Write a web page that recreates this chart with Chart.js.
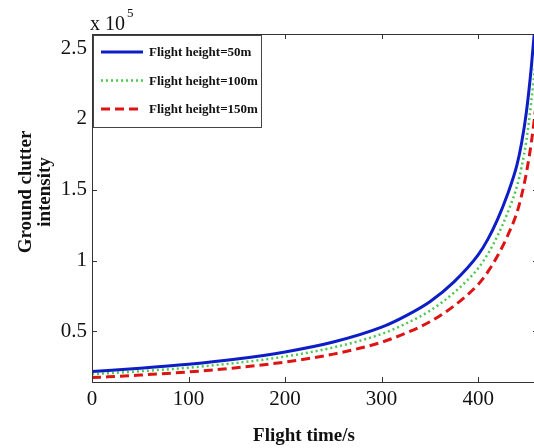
<!DOCTYPE html>
<html>
<head>
<meta charset="utf-8">
<script src="https://cdn.jsdelivr.net/npm/chart.js@4"></script>
<style>
  html, body { margin: 0; padding: 0; background: #fff; overflow: hidden; }
  #wrap { width: 546px; height: 448px; }
</style>
</head>
<body>
<div id="wrap"><canvas id="chart" width="546" height="448"></canvas></div>
<script>
// 데이터 (x 10^5 단위)
const flightTime = [0, 50, 100, 150, 200, 250, 300, 325, 350, 375, 400, 410, 420, 430, 440, 445, 450, 455, 460, 465];
const h50  = [0.217, 0.240, 0.268, 0.305, 0.355, 0.425, 0.530, 0.610, 0.710, 0.850, 1.040, 1.150, 1.290, 1.460, 1.670, 1.830, 2.050, 2.360, 2.750, 3.200];
const h100 = [0.198, 0.219, 0.244, 0.278, 0.323, 0.387, 0.482, 0.555, 0.646, 0.774, 0.946, 1.047, 1.174, 1.329, 1.520, 1.660, 1.850, 2.120, 2.450, 2.850];
const h150 = [0.174, 0.192, 0.214, 0.244, 0.284, 0.340, 0.424, 0.488, 0.568, 0.680, 0.832, 0.920, 1.032, 1.168, 1.336, 1.460, 1.620, 1.830, 2.100, 2.420];
const seriesLabels = ['Flight height=50m', 'Flight height=100m', 'Flight height=150m'];
const xTicks = [0, 100, 200, 300, 400];
const yTicks = [0.5, 1, 1.5, 2, 2.5];

const SERIF = '"Liberation Serif", "Times New Roman", serif';

function toPoints(vals) {
  return vals.map((v, i) => ({ x: flightTime[i], y: v }));
}

// 프레임, 안쪽 눈금, 범례, 축 제목
const framePlugin = {
  id: 'frame',
  afterDatasetsDraw(chart) {
    const { ctx, chartArea: a, scales: { x, y } } = chart;
    ctx.save();
    ctx.strokeStyle = '#333';
    ctx.lineWidth = 1;
    ctx.setLineDash([]);
    ctx.strokeRect(a.left + 0.5, a.top + 0.5, a.right - a.left, a.bottom - a.top);

    ctx.beginPath();
    x.ticks.forEach(t => {
      const px = Math.round(x.getPixelForValue(t.value)) + 0.5;
      ctx.moveTo(px, a.bottom); ctx.lineTo(px, a.bottom - 5);
      ctx.moveTo(px, a.top); ctx.lineTo(px, a.top + 5);
    });
    y.ticks.forEach(t => {
      const py = Math.round(y.getPixelForValue(t.value)) + 0.5;
      ctx.moveTo(a.left, py); ctx.lineTo(a.left + 5, py);
      ctx.moveTo(a.right, py); ctx.lineTo(a.right - 5, py);
    });
    ctx.stroke();

    // 범례
    const bx = a.left + 1, by = a.top + 1, bw = 168, bh = 92;
    ctx.fillStyle = '#fff';
    ctx.fillRect(bx, by, bw, bh);
    ctx.strokeStyle = '#444';
    ctx.strokeRect(bx + 0.5, by + 0.5, bw, bh);
    ctx.font = 'bold 13px ' + SERIF;
    ctx.textBaseline = 'middle';
    ctx.textAlign = 'left';
    chart.data.datasets.forEach((ds, i) => {
      const ly = by + 17 + i * 28.5;
      ctx.beginPath();
      ctx.strokeStyle = ds.borderColor;
      ctx.lineWidth = ds.borderWidth;
      ctx.setLineDash(ds.borderDash || []);
      ctx.moveTo(bx + 8, ly);
      ctx.lineTo(bx + 50, ly);
      ctx.stroke();
      ctx.setLineDash([]);
      ctx.fillStyle = '#111';
      ctx.fillText(ds.label, bx + 56, ly + 1);
    });

    // 지수 표기
    ctx.fillStyle = '#111';
    ctx.textBaseline = 'alphabetic';
    ctx.font = '20px ' + SERIF;
    ctx.fillText('x 10', 90, 30);
    const w = ctx.measureText('x 10').width;
    ctx.font = '13px ' + SERIF;
    ctx.fillText('5', 90 + w + 2, 17);

    // x축 제목
    ctx.font = 'bold 19px ' + SERIF;
    ctx.textAlign = 'center';
    ctx.fillText('Flight time/s', 304, 441);

    // y축 제목
    ctx.translate(0, 192);
    ctx.rotate(-Math.PI / 2);
    ctx.fillText('Ground clutter', 0, 31);
    ctx.fillText('intensity', 0, 50);
    ctx.restore();
  }
};

const ctx = document.getElementById('chart').getContext('2d');
const chart = new Chart(ctx, {
  type: 'line',
  data: {
    datasets: [{
      label: seriesLabels[0],
      data: toPoints(h50),
      borderColor: '#0d1ec6',
      borderWidth: 3,
      pointRadius: 0,
      cubicInterpolationMode: 'monotone',
      fill: false
    }, {
      label: seriesLabels[1],
      data: toPoints(h100),
      borderColor: '#4ec84e',
      borderWidth: 2.5,
      borderDash: [2, 3],
      pointRadius: 0,
      cubicInterpolationMode: 'monotone',
      fill: false
    }, {
      label: seriesLabels[2],
      data: toPoints(h150),
      borderColor: '#dc1414',
      borderWidth: 3,
      borderDash: [9, 5],
      pointRadius: 0,
      cubicInterpolationMode: 'monotone',
      fill: false
    }]
  },
  options: {
    responsive: false,
    animation: false,
    layout: { padding: { left: 0, top: 34, right: 8, bottom: 0 } },
    plugins: { legend: { display: false }, tooltip: { enabled: false } },
    scales: {
      x: {
        type: 'linear',
        min: 0,
        max: 462,
        afterBuildTicks: s => { s.ticks = xTicks.map(v => ({ value: v })); },
        afterFit: s => { s.height = 66; },
        grid: { display: false, drawTicks: false },
        border: { display: false },
        ticks: { color: '#111', padding: 5, maxRotation: 0, font: { family: SERIF, size: 21 }, callback: v => String(v) }
      },
      y: {
        type: 'linear',
        min: 0.143,
        max: 2.6,
        afterBuildTicks: s => { s.ticks = yTicks.map(v => ({ value: v })); },
        afterFit: s => { s.width = 92; },
        grid: { display: false, drawTicks: false },
        border: { display: false },
        ticks: { color: '#111', padding: 5, font: { family: SERIF, size: 21 }, callback: v => String(v) }
      }
    }
  },
  plugins: [framePlugin]
});
</script>
</body>
</html>
